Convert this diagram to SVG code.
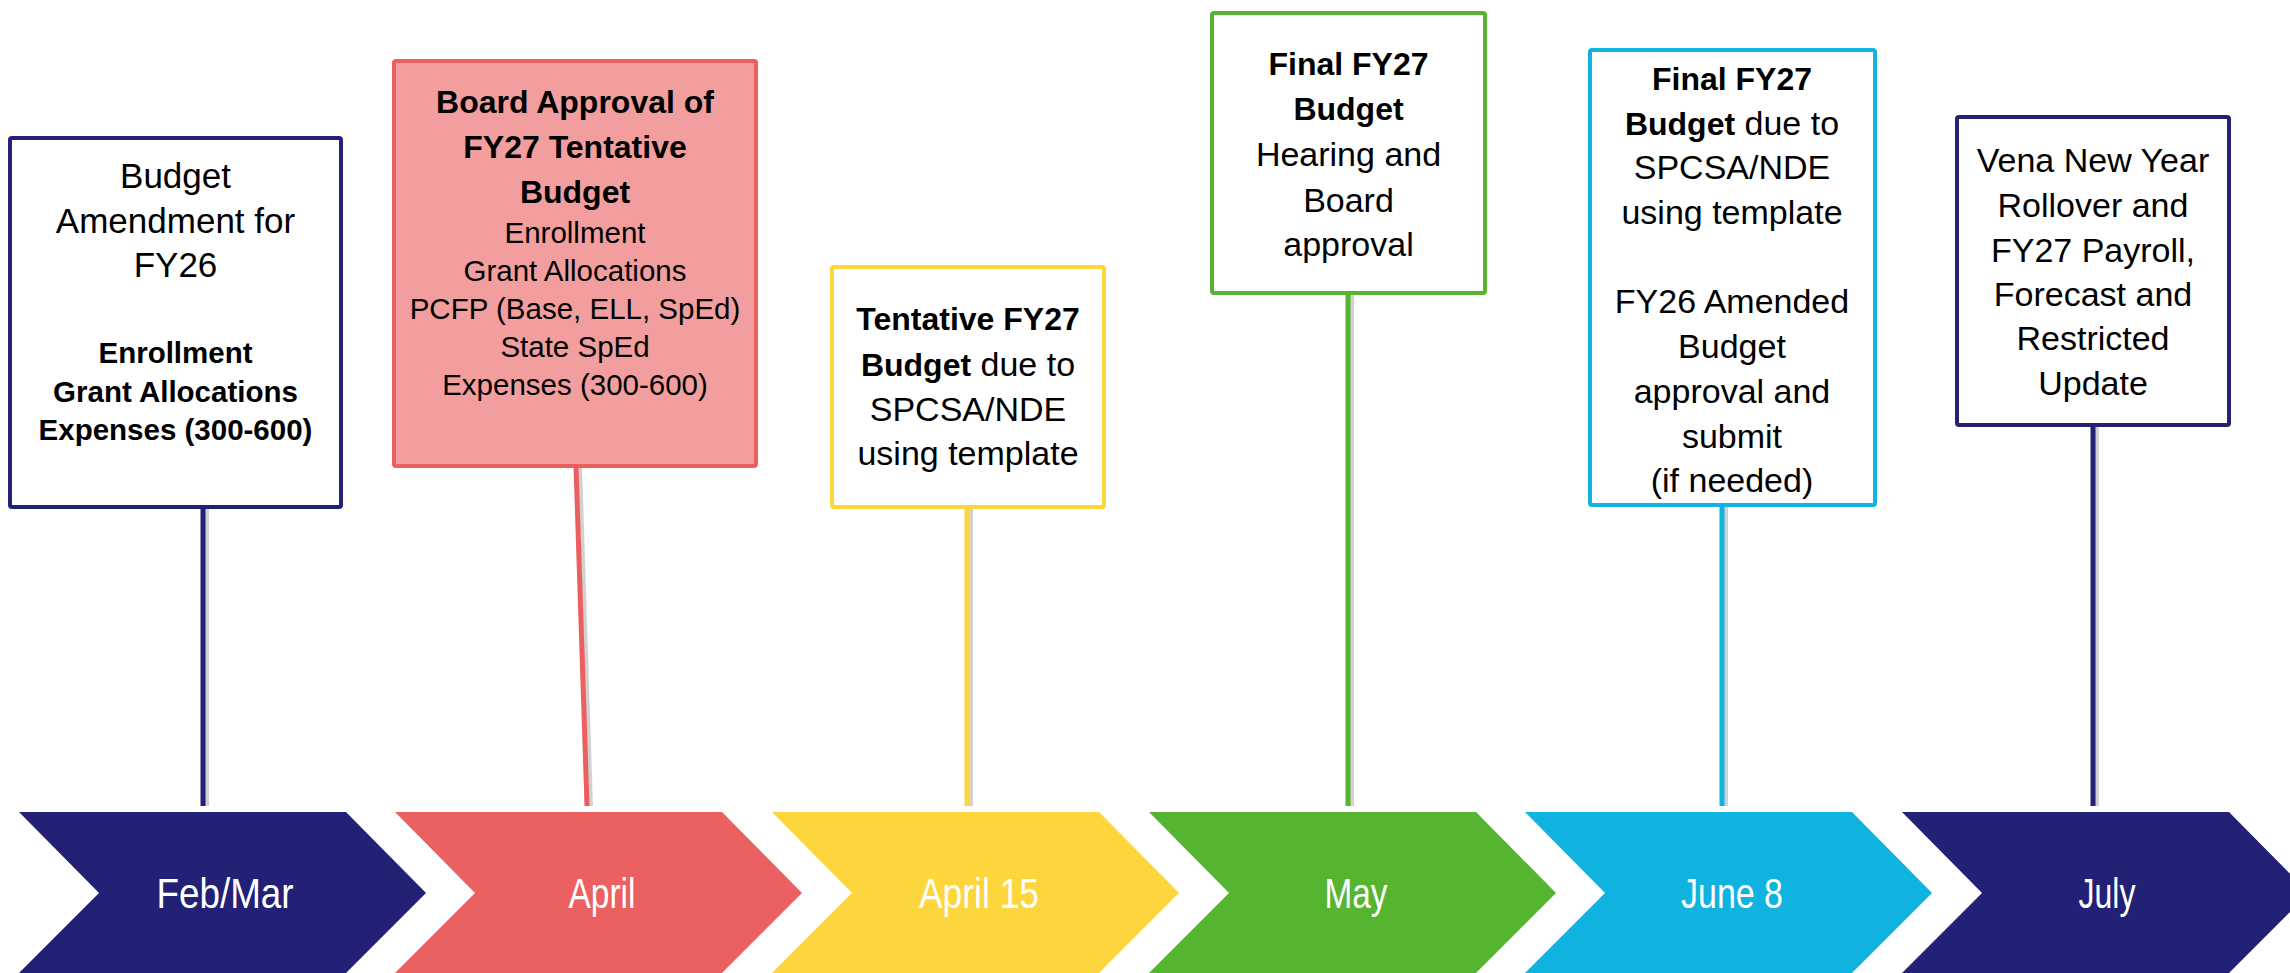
<svg xmlns="http://www.w3.org/2000/svg" width="2290" height="973" viewBox="0 0 2290 973">
<defs>
<style>
.bg{fill:#fff}
.box{stroke-width:4;fill:#fff}
.t{font-family:"Liberation Sans",Arial,sans-serif;fill:#000;text-anchor:middle}
.m{font-size:34px}
.big{font-size:35px}
.b{font-weight:bold}
.hb{font-size:32px;font-weight:bold}
.s{font-size:29.5px}
.sb{font-size:29.5px;font-weight:bold}
.lbl{font-family:"Liberation Sans Narrow","Liberation Sans",Arial,sans-serif;font-size:42px;fill:#fff;text-anchor:middle}
.con{stroke-width:5;fill:none}
.shd{stroke-width:4;fill:none;stroke:#000;stroke-opacity:0.18}
</style>
</defs>
<rect class="bg" x="0" y="0" width="2290" height="973"/>

<g id="connectors">
<line class="shd" x1="207" y1="507" x2="207" y2="806"/>
<line class="shd" x1="580" y1="466" x2="591" y2="806"/>
<line class="shd" x1="971" y1="507" x2="971" y2="806"/>
<line class="shd" x1="1352" y1="293" x2="1352" y2="806"/>
<line class="shd" x1="1726" y1="505" x2="1726" y2="806"/>
<line class="shd" x1="2097" y1="425" x2="2097" y2="806"/>
<line class="con" x1="203" y1="507" x2="203" y2="806" stroke="#222176"/>
<line class="con" x1="576" y1="466" x2="587" y2="806" stroke="#EB5F5F"/>
<line class="con" x1="967" y1="507" x2="967" y2="806" stroke="#FDD53D"/>
<line class="con" x1="1348" y1="293" x2="1348" y2="806" stroke="#55B430"/>
<line class="con" x1="1722" y1="505" x2="1722" y2="806" stroke="#10B3DF"/>
<line class="con" x1="2093" y1="425" x2="2093" y2="806" stroke="#222176"/>
</g>

<g id="chev-febmar">
<polygon points="19,812 346,812 426,893 346,973 19,973 99,893" fill="#222176"/>
<text class="lbl" x="225" y="908" textLength="137" lengthAdjust="spacingAndGlyphs">Feb/Mar</text>
</g>
<g id="chev-april">
<polygon points="395,812 722,812 802,893 722,973 395,973 475,893" fill="#EB6060"/>
<text class="lbl" x="602" y="908" textLength="67" lengthAdjust="spacingAndGlyphs">April</text>
</g>
<g id="chev-april15">
<polygon points="772,812 1099,812 1179,893 1099,973 772,973 852,893" fill="#FDD53D"/>
<text class="lbl" x="979" y="908" textLength="120" lengthAdjust="spacingAndGlyphs">April 15</text>
</g>
<g id="chev-may">
<polygon points="1149,812 1476,812 1556,893 1476,973 1149,973 1229,893" fill="#55B430"/>
<text class="lbl" x="1356" y="908" textLength="63" lengthAdjust="spacingAndGlyphs">May</text>
</g>
<g id="chev-june8">
<polygon points="1525,812 1852,812 1932,893 1852,973 1525,973 1605,893" fill="#10B3DF"/>
<text class="lbl" x="1732" y="908" textLength="102" lengthAdjust="spacingAndGlyphs">June 8</text>
</g>
<g id="chev-july">
<polygon points="1902,812 2229,812 2309,893 2229,973 1902,973 1982,893" fill="#222176"/>
<text class="lbl" x="2107" y="908" textLength="57" lengthAdjust="spacingAndGlyphs">July</text>
</g>

<g id="box-febmar">
<rect class="box" x="10" y="138" width="331" height="369" rx="2" stroke="#222176"/>
<text class="t big" x="175.5" y="188">Budget</text>
<text class="t big" x="175.5" y="233">Amendment for</text>
<text class="t big" x="175.5" y="277">FY26</text>
<text class="t sb" x="175.5" y="363">Enrollment</text>
<text class="t sb" x="175.5" y="402">Grant Allocations</text>
<text class="t sb" x="175.5" y="440">Expenses (300-600)</text>
</g>

<g id="box-april">
<rect class="box" x="394" y="61" width="362" height="405" rx="2" stroke="#EB5F5F" style="fill:#F29E9E"/>
<text class="t hb" x="575" y="113">Board Approval of</text>
<text class="t hb" x="575" y="158">FY27 Tentative</text>
<text class="t hb" x="575" y="203">Budget</text>
<text class="t s" x="575" y="243">Enrollment</text>
<text class="t s" x="575" y="281">Grant Allocations</text>
<text class="t s" x="575" y="319">PCFP (Base, ELL, SpEd)</text>
<text class="t s" x="575" y="357">State SpEd</text>
<text class="t s" x="575" y="395">Expenses (300-600)</text>
</g>

<g id="box-april15">
<rect class="box" x="832" y="267" width="272" height="240" rx="2" stroke="#FDD53D"/>
<text class="t hb" x="968" y="330">Tentative FY27</text>
<text class="t m" x="968" y="376"><tspan class="hb">Budget</tspan> due to</text>
<text class="t m" x="968" y="421">SPCSA/NDE</text>
<text class="t m" x="968" y="465">using template</text>
</g>

<g id="box-may">
<rect class="box" x="1212" y="13" width="273" height="280" rx="2" stroke="#55B430"/>
<text class="t hb" x="1348.5" y="75">Final FY27</text>
<text class="t hb" x="1348.5" y="120">Budget</text>
<text class="t m" x="1348.5" y="166">Hearing and</text>
<text class="t m" x="1348.5" y="212">Board</text>
<text class="t m" x="1348.5" y="256">approval</text>
</g>

<g id="box-june8">
<rect class="box" x="1590" y="50" width="285" height="455" rx="2" stroke="#10B3DF"/>
<text class="t hb" x="1732" y="90">Final FY27</text>
<text class="t m" x="1732" y="135"><tspan class="hb">Budget</tspan> due to</text>
<text class="t m" x="1732" y="179">SPCSA/NDE</text>
<text class="t m" x="1732" y="224">using template</text>
<text class="t m" x="1732" y="313">FY26 Amended</text>
<text class="t m" x="1732" y="358">Budget</text>
<text class="t m" x="1732" y="403">approval and</text>
<text class="t m" x="1732" y="448">submit</text>
<text class="t m" x="1732" y="492">(if needed)</text>
</g>

<g id="box-july">
<rect class="box" x="1957" y="117" width="272" height="308" rx="2" stroke="#222176"/>
<text class="t m" x="2093" y="172">Vena New Year</text>
<text class="t m" x="2093" y="217">Rollover and</text>
<text class="t m" x="2093" y="262">FY27 Payroll,</text>
<text class="t m" x="2093" y="306">Forecast and</text>
<text class="t m" x="2093" y="350">Restricted</text>
<text class="t m" x="2093" y="395">Update</text>
</g>
</svg>
